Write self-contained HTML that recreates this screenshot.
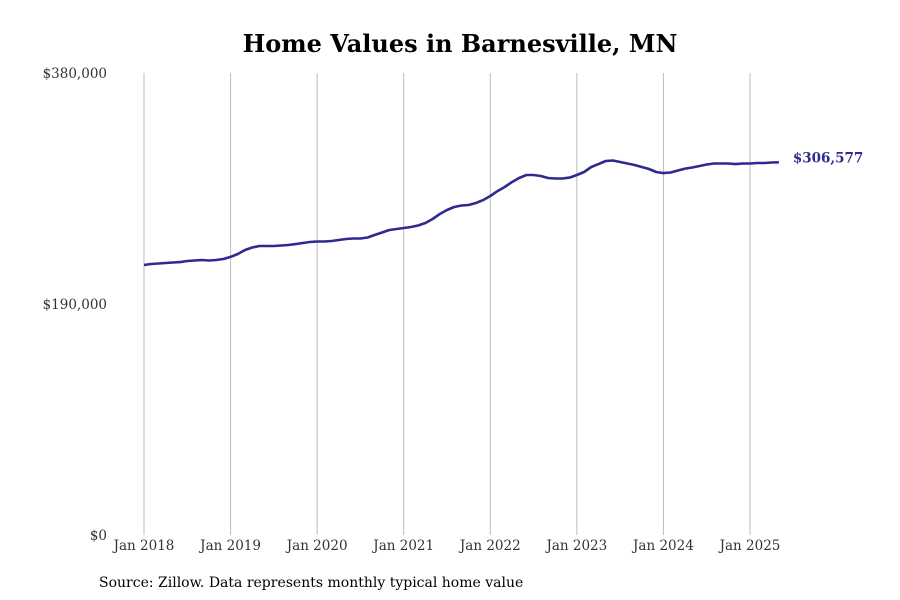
<!DOCTYPE html>
<html><head><meta charset="utf-8"><style>
body{margin:0;background:#fff;}
svg{display:block;font-family:"DejaVu Serif","Liberation Serif",serif;}
</style></head><body>
<svg id="chart" width="900" height="600" viewBox="0 0 900 600">
<text x="460" y="52" text-anchor="middle" font-size="24" font-weight="bold" fill="#000">Home Values in Barnesville, MN</text>
<g id="grid"></g><g id="yticks"></g><g id="xticks"></g><g id="series"></g>
<text x="99" y="587" font-size="14" fill="#000">Source: Zillow. Data represents monthly typical home value</text>
</svg>
<script>
const xTickLabels=["Jan 2018","Jan 2019","Jan 2020","Jan 2021","Jan 2022","Jan 2023","Jan 2024","Jan 2025"];
const yTickValues=[0,190000,380000];
const yTickLabels=["$0","$190,000","$380,000"];
const startYear=2018;
const values=[
222.1,222.9,223.3,223.7,224.1,224.5,225.4,225.8,226.2,225.8,226.2,227.0,
228.7,231.1,234.4,236.5,237.7,237.7,237.7,238.1,238.5,239.3,240.2,241.0,
241.4,241.4,241.8,242.6,243.5,243.9,243.9,244.7,246.8,248.8,250.9,251.7,
252.5,253.3,254.6,256.6,259.9,264.0,267.3,269.8,271.0,271.4,273.1,275.5,
278.8,282.9,286.2,290.3,293.6,296.1,296.1,295.3,293.6,293.2,293.2,294.0,
296.1,298.6,302.7,305.1,307.6,308.0,306.8,305.6,304.3,302.7,301.0,298.6,
297.7,298.2,299.8,301.4,302.3,303.5,304.7,305.6,305.6,305.6,305.1,305.6,
305.6,306.0,306.0,306.4,306.577].map(v=>v*1000);
const lastLabel="$306,577";
const NS="http://www.w3.org/2000/svg";
const x0=144,pxMonth=(750-144)/84,yBase=535,yTop=73,yMax=380000;
const X=i=>x0+i*pxMonth;
const Y=v=>yBase-(v/yMax)*(yBase-yTop);
function mk(t,a,p){const e=document.createElementNS(NS,t);for(const k in a)e.setAttribute(k,a[k]);p.appendChild(e);return e;}
const grid=document.getElementById('grid'),xt=document.getElementById('xticks'),yt=document.getElementById('yticks'),se=document.getElementById('series');
xTickLabels.forEach((l,k)=>{
 const x=X(k*12);
 const g=mk('line',{x1:x,x2:x,y1:yTop,y2:yBase,stroke:'#bbb','stroke-width':1},grid);
 
 
 const t=mk('text',{x:x,y:550,'text-anchor':'middle','font-size':13.5,fill:'#333'},xt);
 t.textContent=l;
 
 
});
yTickValues.forEach((v,k)=>{
 const t=mk('text',{x:107,y:Y(v)+5,'text-anchor':'end','font-size':13.5,fill:'#333'},yt);
 t.textContent=yTickLabels[k];
 
 
});
const d=values.map((v,i)=>(i?'L':'M')+X(i).toFixed(1)+','+Y(v).toFixed(1)).join('');
const p=mk('path',{d:d,fill:'none',stroke:'#2e2a8f','stroke-width':2.6,'stroke-linejoin':'round'},se);


const li=values.length-1;
const lt=mk('text',{x:X(li)+14,y:Y(values[li])+0,'font-size':13.5,'font-weight':'bold',fill:'#2e2a8f'},se);
lt.textContent=lastLabel;


</script>
</body></html>
